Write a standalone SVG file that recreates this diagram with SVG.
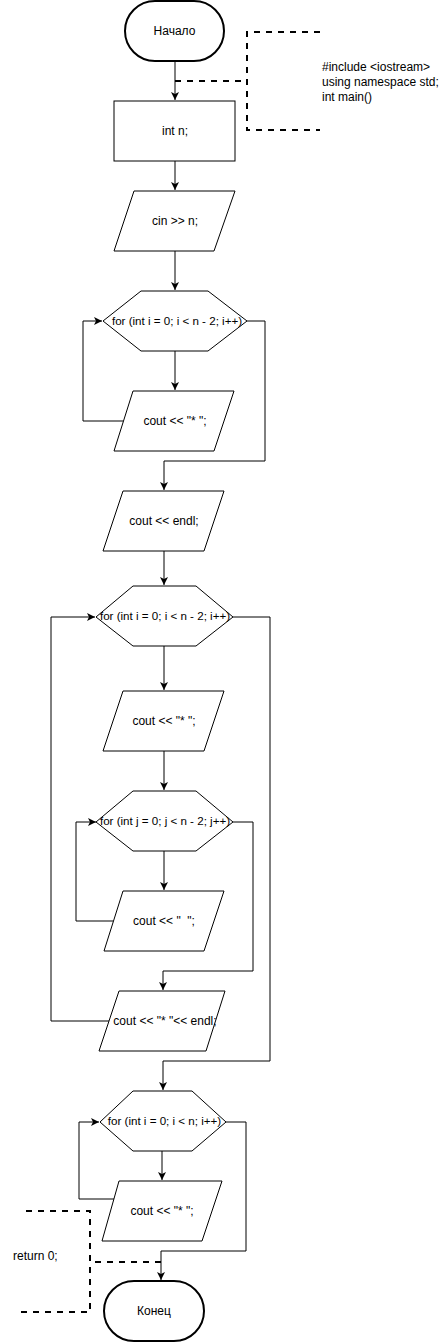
<svg xmlns="http://www.w3.org/2000/svg" width="439" height="1342" viewBox="0 0 439 1342">
<style>
.s{fill:#fff;stroke:#000;stroke-width:1}
.t{fill:#fff;stroke:#000;stroke-width:2}
.c{fill:none;stroke:#000;stroke-width:1}
.d{fill:none;stroke:#000;stroke-width:2;stroke-dasharray:6 6}
text{font-family:"Liberation Sans",Arial,sans-serif;font-size:12px;fill:#000;white-space:pre}
.m{text-anchor:middle}
.h{font-size:11.6px}
</style>
<defs>
<marker id="a" markerUnits="userSpaceOnUse" markerWidth="10" markerHeight="10" refX="8" refY="4" orient="auto">
<path d="M0,0 L8,4 L0,8 L2,4 z" fill="#000"/>
</marker>
</defs>
<rect width="439" height="1342" fill="#fff"/>
<g id="connectors">
<path class="c" d="M175,61 V100" marker-end="url(#a)"/>
<path class="c" d="M175,161 V190" marker-end="url(#a)"/>
<path class="c" d="M175,251 V290" marker-end="url(#a)"/>
<path class="c" d="M175,351 V390" marker-end="url(#a)"/>
<path class="c" d="M123.5,421 H83 V321 H102" marker-end="url(#a)"/>
<path class="c" d="M247,321 H265 V461 H164 V490" marker-end="url(#a)"/>
<path class="c" d="M164,551 V585" marker-end="url(#a)"/>
<path class="c" d="M164,646 V690" marker-end="url(#a)"/>
<path class="c" d="M164,751 V790" marker-end="url(#a)"/>
<path class="c" d="M164,851 V890" marker-end="url(#a)"/>
<path class="c" d="M113.5,921 H76 V822 H96" marker-end="url(#a)"/>
<path class="c" d="M233,822 H253 V971 H163 V990" marker-end="url(#a)"/>
<path class="c" d="M109,1021 H51 V617 H95" marker-end="url(#a)"/>
<path class="c" d="M233,617 H270 V1061 H163 V1090" marker-end="url(#a)"/>
<path class="c" d="M162,1151 V1180" marker-end="url(#a)"/>
<path class="c" d="M114,1199 H79 V1122 H99" marker-end="url(#a)"/>
<path class="c" d="M226,1122 H246 V1251 H161 V1280" marker-end="url(#a)"/>
</g>
<g id="start">
<rect class="t" x="125" y="1" width="99" height="60" rx="30" ry="30"/>
<text class="m" x="174.5" y="35">Начало</text>
</g>
<g id="comment-top">
<path class="d" d="M175,81 H247"/>
<path class="d" d="M320,32 H247 V130 H320"/>
<text x="322" y="71">#include &lt;iostream&gt;</text>
<text x="322" y="86">using namespace std;</text>
<text x="322" y="101">int main()</text>
</g>
<g id="decl">
<rect class="s" x="114" y="101" width="121" height="60"/>
<text class="m" x="175" y="135">int n;</text>
</g>
<g id="input">
<polygon class="s" points="134,191 235,191 214,251 114,251"/>
<text class="m" x="175" y="225">cin &gt;&gt; n;</text>
</g>
<g id="loop1">
<polygon class="s" points="103,321 141,291 208,291 247,321 208,351 141,351"/>
<text class="m h" x="177" y="325">for (int i = 0; i &lt; n - 2; i++)</text>
</g>
<g id="out1">
<polygon class="s" points="133,391 234,391 214,451 114,451"/>
<text class="m" x="175" y="425">cout &lt;&lt; "* ";</text>
</g>
<g id="endl1">
<polygon class="s" points="123,491 224,491 204,551 103,551"/>
<text class="m" x="164" y="525">cout &lt;&lt; endl;</text>
</g>
<g id="loop2">
<polygon class="s" points="96,617 133,586 196,586 233,617 196,646 133,646"/>
<text class="m h" x="165" y="620">for (int i = 0; i &lt; n - 2; i++)</text>
</g>
<g id="out2">
<polygon class="s" points="123,691 224,691 204,751 103,751"/>
<text class="m" x="164" y="725">cout &lt;&lt; "* ";</text>
</g>
<g id="loop3">
<polygon class="s" points="96,822 133,791 196,791 233,822 196,851 133,851"/>
<text class="m h" x="165" y="825">for (int j = 0; j &lt; n - 2; j++)</text>
</g>
<g id="out3">
<polygon class="s" points="123,891 224,891 204,951 104,951"/>
<text class="m" x="164" y="925">cout &lt;&lt; "  ";</text>
</g>
<g id="out4">
<polygon class="s" points="119,991 225,991 206,1051 99,1051"/>
<text class="m" x="165" y="1025">cout &lt;&lt; "* "&lt;&lt; endl;</text>
</g>
<g id="loop4">
<polygon class="s" points="100,1122 133,1091 192,1091 226,1122 192,1151 133,1151"/>
<text class="m h" x="164.5" y="1125">for (int i = 0; i &lt; n; i++)</text>
</g>
<g id="out5">
<polygon class="s" points="119,1181 222,1181 202,1241 102,1241"/>
<text class="m" x="162" y="1215">cout &lt;&lt; "* ";</text>
</g>
<g id="comment-bottom">
<path class="d" d="M161,1262 H90"/>
<path class="d" d="M26,1211 H90 V1312 H20"/>
<text x="13" y="1260">return 0;</text>
</g>
<g id="end">
<rect class="t" x="104" y="1281" width="100" height="60" rx="30" ry="30"/>
<text class="m" x="154" y="1315">Конец</text>
</g>
</svg>
